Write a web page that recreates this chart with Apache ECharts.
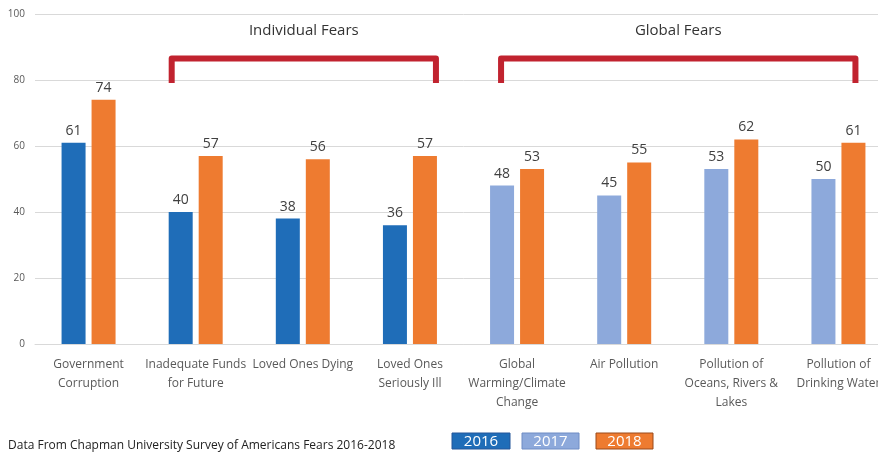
<!DOCTYPE html>
<html>
<head>
<meta charset="utf-8">
<script src="https://cdn.jsdelivr.net/npm/echarts@6/dist/echarts.min.js"></script>
<style>html,body{margin:0;padding:0;background:#fff;overflow:hidden}#c{width:910px;height:452px}</style>
</head>
<body>
<div id="c"></div>
<script>
const categories = [
  "Government\nCorruption",
  "Inadequate Funds\nfor Future",
  "Loved Ones Dying",
  "Loved Ones\nSeriously Ill",
  "Global\nWarming/Climate\nChange",
  "Air Pollution",
  "Pollution of\nOceans, Rivers &\nLakes",
  "Pollution of\nDrinking Water"
];
const values2016 = [61, 40, 38, 36, '-', '-', '-', '-'];
const values2017 = ['-', '-', '-', '-', 48, 45, 53, 50];
const values2018 = [74, 57, 56, 57, 53, 55, 62, 61];
const yTicks = [0, 20, 40, 60, 80, 100];
const groupTitles = ["Individual Fears", "Global Fears"];
const legendYears = ["2016", "2017", "2018"];
const footerText = "Data From Chapman University Survey of Americans Fears 2016-2018";

const FONT = "Open Sans";
const COLORS = { y2016: "#1F6DB8", y2017: "#8DA9DB", y2018: "#EE7B30" };

const chart = echarts.init(document.getElementById('c'), null, { renderer: 'canvas' });

const labelStyle = { show: true, position: 'top', distance: 5, fontSize: 14, color: '#404040', fontFamily: FONT };

chart.setOption({
  animation: false,
  backgroundColor: '#fff',
  textStyle: { fontFamily: FONT },
  grid: { left: 35, top: 14, width: 857, height: 330, containLabel: false },
  xAxis: {
    type: 'category',
    data: categories,
    axisTick: { show: false },
    axisLine: { lineStyle: { color: '#d9d9d9' } },
    axisLabel: { interval: 0, fontSize: 12, lineHeight: 19, color: '#595959', margin: 11, fontFamily: FONT }
  },
  yAxis: {
    type: 'value',
    min: yTicks[0],
    max: yTicks[yTicks.length - 1],
    interval: yTicks[1] - yTicks[0],
    axisLine: { show: false },
    axisTick: { show: false },
    axisLabel: { fontSize: 10, color: '#595959', margin: 10, fontFamily: FONT },
    splitLine: { lineStyle: { color: '#d9d9d9' } }
  },
  series: [
    { name: legendYears[0], type: 'bar', stack: 'prior', data: values2016, barWidth: 24, barGap: '25%',
      itemStyle: { color: COLORS.y2016 }, label: labelStyle },
    { name: legendYears[1], type: 'bar', stack: 'prior', data: values2017, barWidth: 24, barGap: '25%',
      itemStyle: { color: COLORS.y2017 }, label: labelStyle },
    { name: legendYears[2], type: 'bar', data: values2018, barWidth: 24, barGap: '25%',
      itemStyle: { color: COLORS.y2018 }, label: labelStyle }
  ]
});

function px(idx) { return chart.convertToPixel({ xAxisIndex: 0 }, idx); }
function py(v) { return chart.convertToPixel({ yAxisIndex: 0 }, v); }

const yTop = py(86.5), yBot = py(79.1), yTitle = py(94.8);
const brackets = [
  [px(1) - 24, px(3) + 26],
  [px(4) - 16, px(7) + 17]
];
const graphics = [];
brackets.forEach((b, i) => {
  graphics.push({
    type: 'polyline',
    shape: { points: [[b[0], yBot], [b[0], yTop], [b[1], yTop], [b[1], yBot]] },
    style: { stroke: '#C1232F', lineWidth: 6, fill: null, lineJoin: 'round', lineCap: 'butt' },
    z: 10
  });
  graphics.push({
    type: 'text',
    x: (b[0] + b[1]) / 2, y: yTitle,
    style: { text: groupTitles[i], fontSize: 15, fill: '#333', fontFamily: FONT, align: 'center', verticalAlign: 'middle' },
    z: 10
  });
});
graphics.push({
  type: 'text', x: 8, y: 446,
  style: { text: footerText, fontSize: 12, fill: '#222', fontFamily: FONT, align: 'left', verticalAlign: 'middle' }
});
const legendBoxes = [
  { x: 452, w: 58, fill: COLORS.y2016, stroke: '#24579a' },
  { x: 522, w: 57, fill: COLORS.y2017, stroke: '#6f8cc4' },
  { x: 596, w: 57, fill: COLORS.y2018, stroke: '#9a4a1a' }
];
legendBoxes.forEach((lb, i) => {
  graphics.push({
    type: 'rect', shape: { x: lb.x, y: 433, width: lb.w, height: 16 },
    style: { fill: lb.fill, stroke: lb.stroke, lineWidth: 1 }
  });
  graphics.push({
    type: 'text', x: lb.x + lb.w / 2, y: 441.5,
    style: { text: legendYears[i], fontSize: 15, fill: '#fff', fontFamily: FONT, align: 'center', verticalAlign: 'middle' }
  });
});
chart.setOption({ graphic: graphics });
</script>
</body>
</html>
